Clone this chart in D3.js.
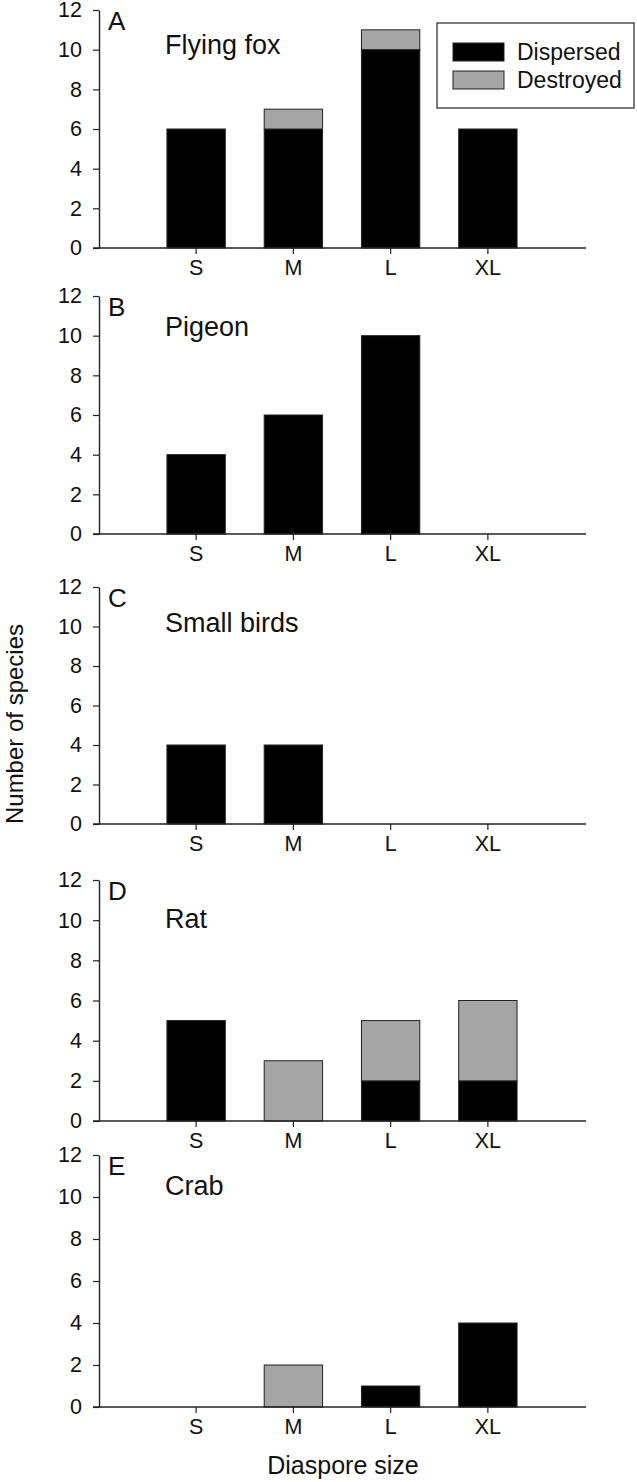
<!DOCTYPE html>
<html><head><meta charset="utf-8">
<script src="https://cdn.jsdelivr.net/npm/d3@7"></script>
<style>
html,body{margin:0;padding:0;background:#fff;}
svg text{font-family:"Liberation Sans",Arial,sans-serif;fill:#111;}
</style></head>
<body><svg id="c" width="637" height="1482"></svg>
<script>
const categories = ["S","M","L","XL"];
const panelLetters = ["A","B","C","D","E"];
const panelTitles = ["Flying fox","Pigeon","Small birds","Rat","Crab"];
const dispersed = [
  [6,6,10,6],
  [4,6,10,0],
  [4,4,0,0],
  [5,0,2,2],
  [0,0,1,4]
];
const destroyed = [
  [0,1,1,0],
  [0,0,0,0],
  [0,0,0,0],
  [0,3,3,4],
  [0,2,0,0]
];
const yTicks = [0,2,4,6,8,10,12];
const seriesNames = ["Dispersed","Destroyed"];
const seriesColors = ["#000000","#a5a5a5"];
const xTitle = "Diaspore size";
const yTitle = "Number of species";

// layout
const panelTop = [10, 296, 587, 880, 1155];
const panelBottom = [248, 534, 824, 1121, 1407];
const titleDy = [44, 40, 45, 48, 40];
const axisX = 99, axisRight = 586;

const svg = d3.select("#c");
const x = d3.scaleBand().domain(categories).range([147.5, 536.5]).paddingInner(0.4).paddingOuter(0.2);

panelLetters.forEach((letter, i) => {
  const y = d3.scaleLinear().domain([0, 12]).range([panelBottom[i], panelTop[i]]);
  const g = svg.append("g");
  const rows = categories.map((c, j) => ({c, d: dispersed[i][j], s: destroyed[i][j]}));
  rows.forEach(r => {
    if (r.d > 0) g.append("rect").attr("x", x(r.c)).attr("width", x.bandwidth())
      .attr("y", y(r.d)).attr("height", y(0) - y(r.d))
      .attr("fill", seriesColors[0]).attr("stroke", "#222").attr("stroke-width", 1);
    if (r.s > 0) g.append("rect").attr("x", x(r.c)).attr("width", x.bandwidth())
      .attr("y", y(r.d + r.s)).attr("height", y(r.d) - y(r.d + r.s))
      .attr("fill", seriesColors[1]).attr("stroke", "#222").attr("stroke-width", 1);
  });
  const ya = g.append("g").attr("transform", `translate(${axisX},0)`)
    .call(d3.axisLeft(y).tickValues(yTicks).tickSize(6).tickPadding(11).tickSizeOuter(0));
  ya.select(".domain").attr("stroke", "#222").attr("stroke-width", 1.4);
  ya.selectAll(".tick line").attr("stroke", "#222").attr("stroke-width", 1.2);
  ya.selectAll(".tick text").style("font-size", "21.5px").attr("fill", "#111");
  const xa = g.append("g").attr("transform", `translate(0,${panelBottom[i]})`)
    .call(d3.axisBottom(x).tickSize(6).tickPadding(6).tickSizeOuter(0));
  xa.select(".domain").remove();
  xa.selectAll(".tick line").attr("stroke", "#222").attr("stroke-width", 1.2);
  xa.selectAll(".tick text").style("font-size", "21.5px").attr("fill", "#111");
  g.append("line").attr("x1", axisX - 6).attr("x2", axisRight)
    .attr("y1", panelBottom[i]).attr("y2", panelBottom[i])
    .attr("stroke", "#222").attr("stroke-width", 1.4);
  g.append("text").attr("x", 108).attr("y", panelTop[i] + 20).style("font-size", "26px").text(letter);
  g.append("text").attr("x", 165).attr("y", panelTop[i] + titleDy[i]).style("font-size", "27px").text(panelTitles[i]);
});

const lg = svg.append("g");
lg.append("rect").attr("x", 437).attr("y", 23).attr("width", 197).attr("height", 85)
  .attr("fill", "#fff").attr("stroke", "#222").attr("stroke-width", 1.2);
seriesNames.forEach((n, k) => {
  lg.append("rect").attr("x", 453).attr("y", 43 + k * 28).attr("width", 51).attr("height", 18)
    .attr("fill", seriesColors[k]).attr("stroke", "#222").attr("stroke-width", 1);
  lg.append("text").attr("x", 517).attr("y", 60 + k * 28).style("font-size", "23px").text(n);
});

svg.append("text").attr("transform", "translate(23,724) rotate(-90)").attr("text-anchor", "middle")
  .style("font-size", "24px").text(yTitle);
svg.append("text").attr("x", 343).attr("y", 1474).attr("text-anchor", "middle")
  .style("font-size", "25px").text(xTitle);
</script></body></html>
